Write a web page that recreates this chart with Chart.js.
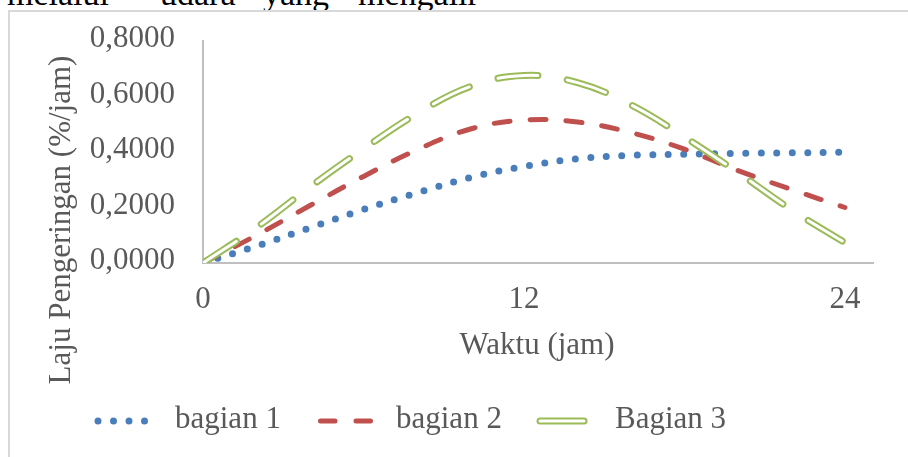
<!DOCTYPE html>
<html>
<head>
<meta charset="utf-8">
<script src="https://cdn.jsdelivr.net/npm/chart.js@4/dist/chart.umd.min.js"></script>
<style>
  html, body { margin: 0; padding: 0; background: #fff; overflow: hidden; }
  #wrap { position: relative; width: 908px; height: 457px; overflow: hidden; }
  #frame { position: absolute; left: 8px; top: 10px; width: 940px; height: 480px;
           border-left: 2px solid #d9d9d9; border-top: 2px solid #d9d9d9; box-sizing: border-box; }
  .w { position: absolute; top: -23px; font-family: "Liberation Serif", serif; font-size: 34px;
       line-height: 1; color: #000; white-space: nowrap; }
  canvas { position: absolute; left: 0; top: 0; }
</style>
</head>
<body>
<div id="wrap">
  <span class="w" style="left:7px">melalui</span>
  <span class="w" style="left:160px">udara</span>
  <span class="w" style="left:263px">yang</span>
  <span class="w" style="left:358px">mengalir</span>
  <div id="frame"></div>
  <canvas id="c" width="908" height="457"></canvas>
</div>
<script>
// Drying time (hours) and drying rate (%/jam) for each section
const hours   = [0, 2, 4, 6, 8, 10, 12, 14, 16, 18, 20, 22, 24];
const bagian1 = [0, 0.061, 0.127, 0.193, 0.253, 0.308, 0.348, 0.376, 0.388, 0.392, 0.395, 0.397, 0.399];
const bagian2 = [0, 0.100, 0.207, 0.312, 0.408, 0.483, 0.515, 0.508, 0.470, 0.410, 0.333, 0.265, 0.200];
const bagian3 = [0, 0.128, 0.274, 0.411, 0.538, 0.636, 0.676, 0.650, 0.570, 0.454, 0.326, 0.192, 0.073];
const seriesLabels = ['bagian 1', 'bagian 2', 'Bagian 3'];
const xTickValues = [0, 12, 24];
const yTickValues = [0, 0.2, 0.4, 0.6, 0.8];
const xTitle = 'Waktu (jam)';
const yTitle = 'Laju Pengeringan (%/jam)';

const FONT = '"Liberation Serif", "Times New Roman", serif';
const TEXT = '#595959';
const BLUE = '#4A7EBB', RED = '#C0504D', GREEN = '#9BBB59';

const pts = arr => hours.map((h, i) => ({ x: h, y: arr[i] }));

// Line styles shared by plot lines and legend samples
const styles = [
  { color: BLUE,  width: 7,   dash: [0, 15.5] },
  { color: RED,   width: 5,   dash: [16, 20] },
  { color: GREEN, width: 7,   dash: [40, 30], inner: '#ffffff', innerWidth: 3 }
];

const base = { pointRadius: 0, pointHoverRadius: 0, tension: 0.4, fill: false, borderCapStyle: 'round', borderJoinStyle: 'round' };

const datasets = [
  Object.assign({}, base, { label: seriesLabels[0], data: pts(bagian1), borderColor: styles[0].color, borderWidth: styles[0].width, borderDash: styles[0].dash, order: 3 }),
  Object.assign({}, base, { label: seriesLabels[1], data: pts(bagian2), borderColor: styles[1].color, borderWidth: styles[1].width, borderDash: styles[1].dash, order: 2 }),
  Object.assign({}, base, { label: seriesLabels[2], data: pts(bagian3), borderColor: styles[2].color, borderWidth: styles[2].width, borderDash: styles[2].dash, order: 1 }),
  // white core of the double line for Bagian 3
  Object.assign({}, base, { label: seriesLabels[2] + ' inner', data: pts(bagian3), borderColor: styles[2].inner, borderWidth: styles[2].innerWidth, borderDash: styles[2].dash, order: 0 })
];

// Axis titles and legend drawn on top of the chart
const decorations = {
  id: 'decorations',
  afterDraw(chart) {
    const ctx = chart.ctx;
    ctx.save();
    ctx.font = '31px ' + FONT;
    ctx.fillStyle = TEXT;

    // x-axis title
    ctx.textAlign = 'center';
    ctx.textBaseline = 'alphabetic';
    ctx.fillText(xTitle, 537, 354);

    // y-axis title
    ctx.save();
    ctx.translate(70, 220);
    ctx.rotate(-Math.PI / 2);
    ctx.fillText(yTitle, 0, 0);
    ctx.restore();

    // legend
    const y = 421;
    const items = [
      { s: styles[0], x0: 98,    x1: 160, tx: 175 },
      { s: styles[1], x0: 320.5, x1: 371, tx: 396, dash: [14.5, 21] },
      { s: styles[2], x0: 540,   x1: 584, tx: 615, dash: [] }
    ];
    items.forEach((it, i) => {
      ctx.save();
      ctx.lineCap = 'round';
      ctx.strokeStyle = it.s.color;
      ctx.lineWidth = it.s.width;
      ctx.setLineDash(it.dash || it.s.dash);
      ctx.beginPath(); ctx.moveTo(it.x0, y); ctx.lineTo(it.x1, y); ctx.stroke();
      if (it.s.inner) {
        ctx.strokeStyle = it.s.inner;
        ctx.lineWidth = it.s.innerWidth;
        ctx.beginPath(); ctx.moveTo(it.x0, y); ctx.lineTo(it.x1, y); ctx.stroke();
      }
      ctx.restore();
      ctx.textAlign = 'left';
      ctx.textBaseline = 'alphabetic';
      ctx.fillText(seriesLabels[i], it.tx, 428);
    });
    ctx.restore();
  }
};

new Chart(document.getElementById('c'), {
  type: 'line',
  data: { datasets },
  plugins: [decorations],
  options: {
    responsive: false,
    animation: false,
    devicePixelRatio: 1,
    layout: { padding: { left: 0, right: 35, top: 41, bottom: 0 } },
    plugins: { legend: { display: false }, tooltip: { enabled: false }, title: { display: false } },
    scales: {
      x: {
        type: 'linear',
        min: 0,
        max: 25.05,
        afterBuildTicks: s => { s.ticks = xTickValues.map(v => ({ value: v })); },
        afterFit: s => { s.height = 194; s.paddingLeft = 0; s.paddingRight = 0; },
        grid: { display: false, drawTicks: false },
        border: { display: true, color: '#bfbfbf', width: 2 },
        ticks: { color: TEXT, font: { family: FONT, size: 31 }, padding: 18, maxRotation: 0, autoSkip: false,
                 callback: v => String(v) }
      },
      y: {
        min: 0,
        max: 0.8,
        afterBuildTicks: s => { s.ticks = yTickValues.map(v => ({ value: v })); },
        afterFit: s => { s.width = 203; s.paddingTop = 0; s.paddingBottom = 0; },
        grid: { display: false, drawTicks: false },
        border: { display: true, color: '#bfbfbf', width: 2 },
        ticks: { color: TEXT, font: { family: FONT, size: 31 }, padding: 28, labelOffset: -2,
                 callback: v => v.toFixed(4).replace('.', ',') }
      }
    }
  }
});
</script>
</body>
</html>
